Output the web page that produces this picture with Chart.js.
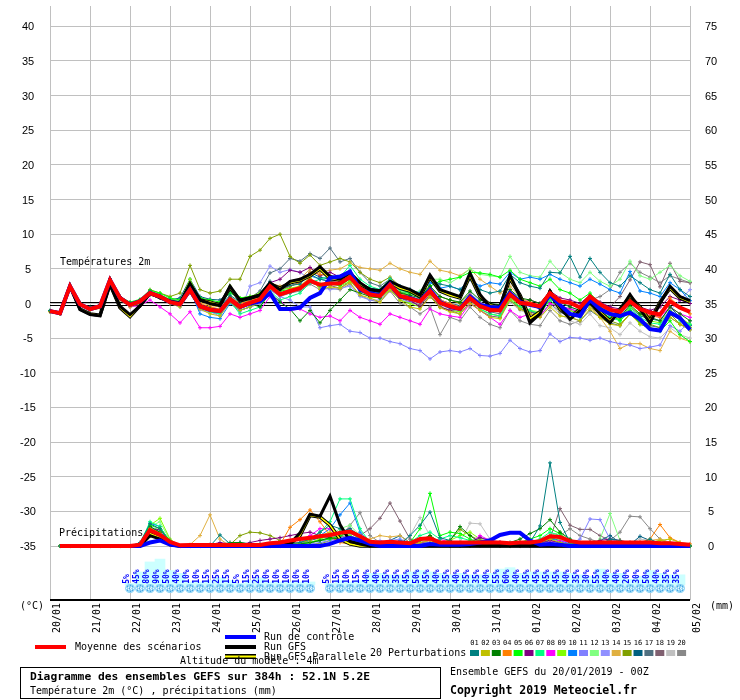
<!DOCTYPE html>
<html lang="fr">
<head>
<meta charset="utf-8">
<title>Ensemble GEFS</title>
<script src="https://cdn.jsdelivr.net/npm/chart.js@4.4.0/dist/chart.umd.min.js"></script>
<style>
  html, body { margin: 0; padding: 0; background: #fff; }
  canvas { display: block; }
</style>
</head>
<body>
<canvas id="gefsChart" width="740" height="700"></canvas>
<script>
// GEFS ensemble diagram: 2m temperature (left axis) and precipitation (right axis), 6h steps

const dayLabels = ['20/01','21/01','22/01','23/01','24/01','25/01','26/01','27/01','28/01',
    '29/01','30/01','31/01','01/02','02/02','03/02','04/02','05/02'];
const hours = ['00','06','12','18'];
const tempTicks = [40,35,30,25,20,15,10,5,0,-5,-10,-15,-20,-25,-30,-35];
const precipTicks = [75,70,65,60,55,50,45,40,35,30,25,20,15,10,5,0];

// Temperatures (°C)
const tempMean = [-1.1,-1.4,2.5,-0.1,-0.8,-0.4,3.4,0.8,-0.2,0.3,
    1.5,1.0,0.2,-0.1,2.0,-0.4,-0.9,-1.1,0.6,-0.5,
    0.1,0.6,2.5,1.3,1.8,2.2,3.3,2.7,2.9,2.9,
    3.8,2.2,1.3,1.1,2.7,1.1,0.7,0.3,1.8,0.1,
    -0.4,-0.8,0.8,-0.4,-0.9,-1.0,1.3,0.1,-0.1,-0.4,
    1.5,0.3,0.1,-0.6,1.0,-0.1,-0.9,-1.2,0.3,-0.8,
    -1.3,-1.6,0.3,-0.6,-1.2];
const tempCtrl = [-1.1,-1.4,2.5,-0.1,-0.8,-0.4,3.4,0.8,-0.2,0.3,
    1.5,1.0,0.2,-0.1,2.0,-0.4,-0.9,-1.1,0.6,-0.5,
    0.0,0.3,1.5,-0.8,-0.8,-0.6,0.8,1.5,3.7,3.9,
    4.6,2.0,1.5,1.2,2.8,1.0,0.8,0.3,2.0,0.2,
    -0.5,-0.8,1.0,-0.2,-0.5,-0.6,1.5,0.2,-0.2,-0.5,
    1.2,-0.2,-1.5,-1.8,0.5,-0.8,-1.5,-1.8,-1.3,-2.3,
    -3.7,-3.9,-1.3,-2.1,-3.8];
const tempGfs = [-1.1,-1.4,2.5,-0.9,-1.6,-1.8,2.7,-0.4,-1.6,-0.4,
    1.5,0.8,0.2,0.0,2.9,0.5,0.0,-0.3,2.5,0.5,
    0.8,1.2,3.0,2.0,3.2,3.5,4.2,5.3,3.9,3.5,
    4.4,3.0,2.0,1.8,3.2,2.5,2.0,1.2,4.1,2.0,
    1.5,1.0,4.4,1.3,-0.5,-0.5,4.1,1.0,-2.8,-1.5,
    1.8,-0.5,-2.3,-1.0,0.1,-1.5,-2.8,-1.0,1.3,-0.8,
    -2.8,0.0,2.5,1.0,0.4];
const tempPar = [-1.1,-1.4,2.5,-0.8,-1.5,-1.7,2.8,-0.6,-1.9,-0.3,
    1.5,0.9,0.3,0.0,2.7,0.5,0.2,-0.2,2.3,0.4,
    0.8,1.2,2.8,2.2,3.0,3.3,4.0,5.0,3.6,3.4,
    4.2,2.8,2.0,1.8,3.0,2.2,1.8,1.0,3.8,1.8,
    1.2,0.8,4.0,1.0,-0.2,-0.5,3.6,1.2,-2.2,-1.2,
    1.5,-0.8,-2.0,-0.8,0.3,-1.2,-2.5,-0.8,1.0,-0.5,
    -2.5,0.2,2.2,0.8,0.2];

const t01 = [-1.0,-1.4,2.5,0.0,-0.6,-0.3,3.6,1.0,0.1,0.5,
    1.8,1.2,0.5,0.3,2.6,0.4,0.0,-0.4,1.2,0.2,
    0.6,1.2,3.0,2.0,2.6,2.8,4.2,3.5,3.2,3.0,
    4.0,2.5,1.8,1.5,3.0,2.2,2.0,1.2,3.5,2.8,
    2.5,2.0,3.5,2.0,1.5,1.8,4.2,3.0,2.5,2.2,
    4.5,4.4,6.8,3.8,6.5,4.5,3.0,2.5,4.0,3.0,
    2.0,1.5,4.2,2.0,1.0];
const t02 = [-1.2,-1.5,2.4,-0.3,-1.0,-0.7,3.2,0.5,-0.5,0.0,
    1.2,0.8,0.0,-0.5,1.6,-0.8,-1.5,-1.8,0.2,-1.0,
    -0.5,0.2,2.2,1.5,2.0,2.5,3.8,2.0,2.4,2.2,
    3.0,1.2,0.8,0.2,2.0,0.5,-0.5,-0.8,1.0,-0.6,
    -1.2,-1.5,0.0,-1.0,-2.0,-2.2,0.5,-0.8,-1.5,-2.0,
    -0.5,-1.8,-2.0,-2.5,-0.8,-2.0,-3.0,-3.2,-1.5,-3.0,
    -3.5,-3.8,-2.0,-3.0,-3.8];
const t03 = [-1.1,-1.3,2.6,0.1,-0.7,-0.2,3.4,0.9,0.0,0.4,
    1.4,0.9,0.3,0.0,2.2,-0.2,-0.7,-1.0,0.8,-0.3,
    0.0,-0.5,1.5,0.2,-0.8,-2.5,-1.0,-2.8,-1.0,0.5,
    2.0,1.5,1.0,0.8,2.5,1.5,1.2,0.8,2.5,1.0,
    0.5,0.2,1.8,0.5,0.0,-0.2,2.0,0.8,0.5,0.0,
    1.8,0.2,-0.5,-1.0,0.8,-0.5,-1.5,-2.0,-0.2,-1.5,
    -2.0,-2.5,-0.5,-1.5,-2.5];
const t04 = [-1.1,-1.4,2.5,-0.1,-0.8,-0.3,3.5,0.8,-0.1,0.4,
    1.6,1.1,0.4,0.1,2.2,0.0,-0.5,-0.8,0.9,0.0,
    0.4,1.0,2.8,2.0,2.5,3.0,4.5,4.2,4.0,3.5,
    4.5,3.0,2.0,1.8,3.2,1.5,1.0,0.5,2.2,0.5,
    0.0,-0.5,1.2,0.0,-0.5,-0.8,1.8,0.5,0.2,-0.3,
    1.5,0.5,0.0,-0.8,0.8,-0.5,-1.2,-1.8,0.5,-1.0,
    -1.8,-2.0,0.8,-0.5,-1.5];
const t05 = [-1.1,-1.4,2.5,0.0,-0.6,-0.2,3.6,1.0,0.2,0.6,
    1.9,1.5,0.8,0.5,2.8,0.8,0.5,0.2,1.5,0.8,
    1.0,1.2,2.6,1.8,2.0,2.2,3.5,2.5,2.8,2.6,
    3.5,2.0,1.5,1.2,2.8,1.5,1.5,1.0,2.5,3.2,
    3.5,3.8,4.5,4.4,4.2,3.8,4.8,3.5,3.0,2.5,
    3.5,2.0,1.5,0.5,1.5,0.0,-1.5,-2.5,-1.0,-3.0,
    -3.5,-4.0,-2.5,-4.5,-5.5];
const t06 = [-1.1,-1.4,2.5,-0.1,-0.8,-0.4,3.4,0.8,-0.2,0.3,
    1.5,1.0,0.2,-0.1,2.0,-0.3,-0.8,-1.0,0.7,-0.4,
    0.5,1.2,3.0,3.5,4.8,4.5,5.2,4.0,4.5,3.8,
    4.2,2.5,1.5,1.0,2.2,0.8,0.5,-0.5,1.0,-0.5,
    -1.0,-0.8,0.5,-0.5,-1.2,-1.0,1.0,0.0,0.5,0.0,
    1.8,0.8,0.5,0.0,1.2,0.2,-0.5,-0.8,0.5,-0.5,
    -1.0,-0.5,1.0,0.5,0.0];
const t07 = [-1.1,-1.4,2.5,-0.1,-0.9,-0.5,3.3,0.7,-0.3,0.2,
    1.4,0.9,0.1,-0.3,1.8,-0.6,-1.2,-1.5,0.3,-1.5,
    -1.0,-0.5,1.8,0.5,1.0,1.5,3.0,3.5,4.0,3.8,
    5.5,3.5,2.5,2.0,3.5,2.0,1.5,0.8,2.0,0.2,
    -0.5,-1.0,0.8,-0.8,-1.5,-1.8,0.5,-0.5,-1.0,-1.5,
    0.5,-0.8,-1.5,-2.0,0.0,-1.2,-2.0,-2.5,-0.8,-2.0,
    -2.8,-3.0,-1.2,-2.5,-3.0];
const t08 = [-1.1,-1.4,2.5,-0.2,-0.9,-0.5,3.3,0.6,-0.5,-0.3,
    0.5,-0.5,-1.5,-2.8,-1.2,-3.5,-3.5,-3.3,-1.5,-2.0,
    -1.5,-1.0,1.0,0.5,-1.0,-0.8,-1.5,-2.0,-1.8,-2.5,
    -1.0,-2.0,-2.5,-3.0,-1.5,-2.0,-2.5,-3.0,-0.8,-1.5,
    -1.8,-2.0,0.0,-1.0,-2.0,-3.0,-1.0,-2.0,-1.5,-1.8,
    0.0,-0.5,-0.8,-1.2,0.5,-0.5,-1.0,-1.5,0.0,-1.0,
    -1.5,-2.0,-0.5,-1.5,-2.0];
const t09 = [-1.1,-1.4,2.5,0.0,-0.7,-0.3,3.5,0.9,0.0,0.5,
    1.8,1.3,0.6,0.3,3.5,0.5,0.2,0.0,2.5,0.8,
    1.0,1.5,3.0,2.0,2.2,2.5,3.5,2.8,3.0,2.5,
    3.2,2.0,1.0,0.8,2.0,0.5,0.0,-0.5,1.0,-0.5,
    -1.0,-1.2,0.5,-0.8,-1.5,-1.8,0.8,-0.5,-1.0,-1.2,
    0.8,-0.5,-1.0,-1.5,0.2,-1.0,-1.8,-2.2,-0.5,-1.5,
    -2.5,-2.8,-1.0,-2.0,-3.0];
const t10 = [-1.1,-1.4,2.5,-0.1,-0.8,-0.4,3.5,0.9,0.0,0.5,
    1.7,1.2,0.3,-0.2,2.0,-1.5,-2.0,-2.2,0.0,-1.0,
    -0.5,0.5,2.5,1.8,2.5,3.0,4.0,3.5,3.2,3.8,
    4.8,3.0,2.2,2.0,3.5,2.5,2.0,1.5,3.0,2.2,
    2.5,2.0,3.5,2.5,3.0,2.8,4.5,3.5,3.8,3.5,
    4.2,3.5,3.0,2.5,3.5,2.8,2.0,1.5,4.6,1.8,
    1.5,1.0,3.0,2.0,0.4];
const t11 = [-1.1,-1.4,2.5,-0.2,-0.9,-0.5,3.3,0.7,-0.3,0.2,
    1.3,0.8,0.0,-0.5,1.5,-0.8,-1.2,-1.5,0.2,-1.0,
    -0.5,0.0,2.0,1.0,0.5,-0.5,-0.5,-3.5,-3.2,-3.0,
    -4.0,-4.2,-5.0,-5.0,-5.5,-5.8,-6.5,-6.8,-8.0,-7.0,
    -6.8,-7.0,-6.5,-7.5,-7.6,-7.2,-5.3,-6.5,-7.0,-6.8,
    -4.4,-5.5,-4.9,-5.0,-5.3,-5.0,-5.5,-5.8,-6.0,-6.5,
    -6.3,-6.0,-3.2,-4.0,-2.5];
const t12 = [-1.1,-1.4,2.5,-0.1,-0.8,-0.4,3.4,0.8,-0.2,0.3,
    1.5,1.0,0.2,-0.1,2.0,-0.3,-0.8,-1.0,0.7,-0.4,
    0.2,0.8,2.6,1.5,2.0,2.4,3.5,2.8,3.0,3.0,
    4.0,2.5,1.5,1.5,3.0,1.8,1.5,1.8,3.5,3.5,
    3.0,3.8,5.0,4.2,4.0,3.8,6.8,4.5,4.0,3.8,
    6.1,4.5,3.5,3.0,4.5,3.2,2.5,3.5,6.1,4.0,
    3.5,4.5,5.5,4.0,3.2];
const t13 = [-1.1,-1.4,2.5,-0.1,-0.8,-0.5,3.4,0.8,-0.3,0.2,
    1.4,0.9,0.1,-0.2,1.6,-1.0,-1.2,-1.8,0.2,-1.2,
    2.5,3.0,5.4,4.5,4.9,4.5,3.5,2.5,2.0,2.2,
    2.5,1.0,0.5,0.5,2.0,0.5,0.2,0.5,1.8,0.5,
    0.0,-0.5,1.5,0.2,-0.5,-0.8,1.5,0.5,0.0,-0.5,
    1.2,0.2,-0.5,-1.0,0.5,-0.5,-1.0,-1.5,-0.5,-1.5,
    -2.0,-2.5,-1.0,0.5,2.0];
const t14 = [-1.1,-1.4,2.5,0.0,-0.7,-0.3,3.6,0.9,0.0,0.5,
    1.6,1.1,0.4,0.0,2.4,0.2,-0.3,-0.5,1.0,0.0,
    0.5,1.0,3.0,2.5,3.0,3.5,5.0,4.5,4.8,5.0,
    5.8,5.2,5.0,4.8,5.8,5.0,4.5,4.2,6.1,4.8,
    4.5,4.0,5.0,3.5,2.5,1.5,2.5,1.0,0.0,-0.5,
    0.5,-1.0,-1.5,-2.0,-0.5,-2.0,-4.0,-6.5,-5.8,-5.8,
    -6.5,-6.8,-4.0,-5.0,-5.5];
const t15 = [-1.1,-1.4,2.5,-0.1,-0.8,-0.4,3.4,0.8,-0.2,0.5,
    2.0,1.5,1.0,1.5,5.5,2.0,1.5,1.8,3.5,3.5,
    6.8,7.7,9.4,10.0,6.8,5.8,7.0,5.5,6.0,6.5,
    6.0,4.5,3.5,3.0,3.8,2.5,2.0,1.5,2.5,1.0,
    0.5,0.0,1.5,0.0,-0.5,-1.0,1.0,-0.5,-1.0,-1.5,
    0.5,-1.0,-1.5,-2.0,-0.5,-1.5,-2.5,-3.0,-1.5,-2.5,
    -3.0,-3.5,-1.5,-3.0,-3.5];
const t16 = [-1.1,-1.4,2.5,-0.1,-0.8,-0.4,3.5,0.8,-0.1,0.4,
    1.6,1.1,0.5,0.8,3.5,1.0,0.6,0.5,1.8,0.5,
    0.8,1.5,3.2,2.0,2.5,3.0,4.5,3.8,3.5,3.2,
    4.0,2.8,2.0,1.8,3.2,1.8,1.5,1.0,2.2,0.5,
    0.0,-0.3,1.2,0.0,-0.8,-1.0,1.5,0.2,-0.2,-0.8,
    1.0,-0.3,-0.8,-1.2,0.5,-0.8,-1.8,-2.2,-0.5,-1.8,
    -2.2,-2.5,-0.5,-2.0,-3.2];
const t17 = [-1.1,-1.4,2.5,-0.1,-0.8,-0.4,3.4,0.8,-0.2,0.3,
    1.5,1.0,0.3,0.0,2.2,-0.2,-0.6,-0.8,1.0,0.0,
    0.8,1.8,4.4,5.0,6.5,6.1,7.2,6.5,8.0,6.0,
    6.5,4.5,3.0,2.5,3.5,1.8,1.0,0.5,1.5,0.0,
    -0.5,-0.8,0.8,-0.5,-1.2,-1.5,0.5,-0.8,-1.2,-1.8,
    0.0,-1.2,-2.0,-2.5,-1.0,-2.0,-2.8,-3.2,-1.5,-2.8,
    -3.2,-3.5,-2.0,-3.0,-3.8];
const t18 = [-1.1,-1.4,2.5,-0.1,-0.8,-0.4,3.4,0.8,-0.2,0.3,
    1.5,1.0,0.2,-0.2,1.8,-0.5,-1.0,-1.2,0.5,-0.6,
    0.0,0.5,2.2,1.2,1.5,2.0,3.0,2.5,2.6,2.2,
    3.2,1.8,1.0,0.8,2.0,0.8,0.2,-0.2,1.2,-0.5,
    -1.0,-1.5,0.2,-1.0,-1.8,-2.0,0.5,-0.8,-1.2,-1.5,
    0.8,-0.5,-1.0,-1.5,0.5,-0.5,-0.5,1.0,3.4,6.0,
    5.6,2.4,5.8,3.2,3.0];
const t19 = [-1.1,-1.4,2.5,-0.1,-0.8,-0.4,3.4,0.8,-0.2,0.3,
    1.5,1.0,0.3,0.0,1.8,-0.3,-0.8,-1.0,0.8,-0.3,
    0.3,0.8,2.5,1.5,1.8,2.2,3.2,2.6,2.8,2.8,
    3.6,2.0,1.2,1.0,2.5,0.8,0.3,0.0,1.5,-0.3,
    -0.8,-1.2,0.5,-0.8,-1.5,-1.8,0.2,-1.0,-1.5,-2.0,
    -0.2,-1.5,-2.5,-3.0,-1.5,-3.2,-3.5,-4.5,-2.8,-4.0,
    -4.8,-5.0,-3.5,-4.5,-5.0];
const t20 = [-1.1,-1.4,2.5,-0.1,-0.8,-0.4,3.4,0.8,-0.2,0.3,
    1.2,0.8,0.0,-0.3,1.5,-0.8,-1.2,-1.5,0.2,-1.0,
    -0.5,0.0,2.0,1.0,1.5,1.8,2.8,2.0,2.2,2.0,
    2.8,1.2,0.5,0.2,1.8,0.0,-0.5,-1.5,-0.5,-4.5,
    -2.0,-2.5,-0.5,-2.0,-3.0,-3.5,-1.0,-2.5,-3.0,-3.2,
    -1.0,-2.5,-3.0,-2.5,0.5,1.0,2.0,4.5,5.8,4.5,
    3.8,3.0,4.0,3.5,3.0];

// Precipitation (mm), no value at step 0
const precipMean = [null,0,0,0,0,0,0,0,0,0.2,
    2.3,1.6,0.6,0.1,0.15,0.15,0.15,0.15,0.15,0.15,
    0.15,0.15,0.4,0.5,0.8,1.0,1.2,1.4,1.6,1.9,
    2.1,1.4,0.6,0.5,0.6,0.5,0.4,1.0,1.1,0.5,
    0.5,0.5,0.5,0.5,0.5,0.5,0.4,0.5,0.5,0.7,
    1.4,1.3,0.7,0.5,0.5,0.5,0.5,0.5,0.5,0.5,
    0.5,0.4,0.4,0.3,0.2];
const precipCtrl = [null,0,0,0,0,0,0,0,0,0,
    0.5,0.8,0.2,0,0,0,0,0,0,0,
    0,0,0,0,0,0,0,0,0.3,0.8,
    1.2,0.8,0.3,0,0,0,0,0,0.3,0.2,
    0.2,0.2,0.3,0.5,0.8,1.6,1.9,1.9,0.8,0.2,
    0.3,0.2,0,0,0,0,0,0,0,0,
    0,0,0,0,0];
const precipGfs = [null,0,0,0,0,0,0,0,0,0,
    1.5,1.0,0.2,0,0,0,0,0,0,0,
    0,0,0,0,0.3,1.9,4.6,4.3,7.2,3.1,
    0.7,0.3,0,0,0,0,0,0,0,0,
    0,0,0,0,0,0,0,0,0,0,
    0,0,0,0,0.3,0.5,0.2,0,0,0,
    0,0,0,0,0];
const precipPar = [null,0,0,0,0,0,0,0,0,0,
    1.8,1.2,0.2,0,0,0,0,0,0,0,
    0,0,0,0,0.3,1.5,4.4,4.2,3.0,1.0,
    0.3,0,0,0,0,0,0,0,0,0,
    0,0,0,0,0,0,0,0,0,0,
    0,0,0,0,0,0,0,0,0,0,
    0,0,0,0,0];

const p01 = [null,0,0,0,0,0,0,0,0,0.5,
    3.2,2.5,0.5,0,0,0,0,1.6,0.3,0,
    0,0,0,0.2,0.3,0.5,1.0,2.0,3.0,2.5,
    1.0,0.5,0.2,0,0.3,0.2,1.5,3.0,4.9,1.2,
    0.8,0.3,0.2,0.3,0.5,0.2,0,0.2,0.5,2.9,
    12.0,3.4,0.5,0.2,0.3,0.2,1.0,0.8,0.2,0.3,
    1.0,0.3,0.2,0.1,0];
const p02 = [null,0,0,0,0,0,0,0,0,0.3,
    2.5,1.8,0.3,0,0,0,0,0,0,0,
    0,0,0,0,0.2,0.5,0.8,1.5,2.0,1.0,
    0.5,0.2,0,0,0.2,0,0,0.5,0.8,0.2,
    0,0,0,0.3,0.5,0.2,0,0,0.2,0.5,
    1.0,0.5,0.2,0,0,0.2,0.5,0.3,0,0.2,
    0.5,0.8,1.0,0.5,0];
const p03 = [null,0,0,0,0,0,0,0,0,0.2,
    2.8,2.0,0.3,0,0,0,0,0.2,0.5,0.5,
    0.3,0.2,0,0,0.2,0.3,0.5,0.8,1.2,1.0,
    0.5,0.3,0.2,0,0,0.2,0.3,0.8,1.5,0.5,
    0.8,2.8,1.5,0.5,0.3,0.2,0.5,1.0,1.8,2.5,
    3.8,2.0,1.0,0.3,0.2,0,0,0,0,0,
    0.2,0.3,0.2,0,0];
const p04 = [null,0,0,0,0,0,0,0,0,0.2,
    2.5,2.0,0.5,0,0,0,0,0,0,0,
    0,0,0,0.2,2.7,3.8,5.2,3.5,1.5,0.5,
    0.3,0.2,0,0,0,0,0,0,0.3,0.2,
    0,0,0,0,0.2,0,0,0,0,0,
    0.3,0.2,0,0,0,0,0.5,0.8,0.3,0.5,
    1.0,3.1,1.2,0.5,0.3];
const p05 = [null,0,0,0,0,0,0,0,0,0.3,
    3.0,2.5,0.8,0,0,0,0,0,0,0,
    0,0,0,0,0.2,0.3,0.5,0.8,1.0,1.5,
    2.0,1.0,0.3,0,0.2,0,0.5,2.5,7.6,1.5,
    2.0,1.8,1.0,0.5,0.3,0.2,0,0.5,1.0,1.5,
    2.5,1.8,0.5,0.2,0,0,0.2,0.3,0.2,0,
    0,0.2,0.3,0,0];
const p06 = [null,0,0,0,0,0,0,0,0,0.2,
    2.0,2.5,0.5,0,0,0,0.2,0.5,0.3,0.2,
    0.5,0.8,1.0,1.2,1.5,1.8,2.0,1.5,1.2,0.8,
    0.5,0.3,0.2,0,0,0,0.3,0.5,0.3,0.2,
    0,0.2,0.5,1.2,0.8,0.5,0.2,0,0.3,0.5,
    0.8,0.5,0.2,0.3,0.5,0.8,1.0,0.8,0.5,0.3,
    0.2,0.2,0,0,0];
const p07 = [null,0,0,0,0,0,0,0,0,0.3,
    3.5,2.8,0.5,0,0,0,0,0,0,0,
    0,0,0,0,0.2,0.5,1.0,2.0,3.5,6.8,
    6.8,2.5,0.5,0.2,0.3,0.2,0.5,1.5,2.0,1.0,
    1.5,1.2,0.8,0.5,0.3,0.2,0,0.2,0.5,1.0,
    2.0,1.5,0.5,0.2,0,0,0.2,0.3,0.2,0,
    0,0.2,0.3,0.2,0];
const p08 = [null,0,0,0,0,0,0,0,0,0.2,
    2.0,2.5,0.8,0,0,0,0,0,0,0,
    0,0,0,0,0.3,0.5,1.5,2.5,2.5,1.0,
    0.5,0.3,0.2,0,0,0,0.2,0.5,0.8,1.0,
    0.5,0.3,0.5,1.5,0.8,0.5,0.2,0,0.2,0.3,
    0.5,0.8,0.5,0.2,0,0,0.2,0.3,0.2,0,
    0,0.2,0.3,0,0];
const p09 = [null,0,0,0,0,0,0,0,0,0.3,
    3.0,4.0,1.0,0,0,0,0,0,0,0,
    0,0,0,0,0.2,0.3,0.5,1.0,1.5,2.0,
    1.5,0.8,0.3,0,0.2,0,0.3,0.8,1.5,0.5,
    0.8,1.5,2.0,1.0,0.5,0.2,0,0.2,0.5,0.8,
    1.5,1.0,0.5,0.2,0,0,0,0.2,0,0,
    0,0.2,0.5,0.3,0];
const p10 = [null,0,0,0,0,0,0,0,0,0.3,
    3.3,2.8,0.5,0,0,0,0,0,0,0,
    0,0,0,0,0.2,0.3,0.8,1.5,2.5,4.5,
    6.2,2.0,0.5,0.2,0.3,0.8,0.5,0.8,1.2,0.5,
    0.3,0.2,0.2,0.3,0.5,0.2,0,0,0.2,0.5,
    1.0,0.8,0.3,0.2,0,0,0,0.2,0,0,
    0,0,0.2,0,0];
const p11 = [null,0,0,0,0,0,0,0,0,0.2,
    2.5,2.0,0.5,0,0,0,0,0,0,0,
    0,0,0,0,0,0.2,0.3,0.5,0.8,1.0,
    0.8,0.5,0.3,0.8,0.5,0.3,0.2,0.5,0.3,0.2,
    0,0,0.2,0.5,0.3,0.2,0,0,0,0.2,
    0.3,0.5,0.3,1.0,3.9,3.8,1.0,0.5,0.3,0.2,
    0.2,0,0,0,0];
const p12 = [null,0,0,0,0,0,0,0,0,0.2,
    2.8,3.5,0.8,0,0,0,0,0,0,0,
    0,0,0,0,0.2,0.3,0.5,1.0,1.5,2.5,
    3.0,1.5,0.5,0,0.2,0,0.3,0.5,1.0,0.5,
    0.3,0.5,0.8,0.5,0.3,0.2,0,0,0.2,0.5,
    1.5,2.0,0.8,0.3,0,1.0,4.7,0.8,0.3,0.2,
    0,0,0,0,0];
const p13 = [null,0,0,0,0,0,0,0,0,0.3,
    2.8,2.2,0.5,0,0,0,0,0,0,0,
    0,0,0,0,0.2,0.3,0.5,0.8,1.0,1.2,
    1.5,1.0,0.5,0.3,0.8,1.0,0.5,0.3,0.5,0.3,
    0.2,0.2,0.5,1.2,1.0,0.5,0.2,0,0,0.2,
    0.5,0.8,0.5,0.2,0,0,0,0.2,0,0,
    0,0,0.2,0,0];
const p14 = [null,0,0,0,0,0,0,0,0,0.2,
    2.0,1.5,0.3,0,0.2,1.5,4.5,1.0,0,0,
    0,0,0,0,0.3,0.5,1.0,1.5,1.2,0.8,
    0.5,0.5,1.0,1.5,1.3,1.5,0.5,0.3,0.2,0,
    0,0,0,0.3,0.2,0,0,0,0,0.2,
    0.5,0.3,0,0,0,0,0,0.2,0.3,0.5,
    0.8,1.0,0.5,0.2,0];
const p15 = [null,0,0,0,0,0,0,0,0,0.2,
    2.2,2.8,0.5,0,0,0,0,0,0.2,1.5,
    2.0,1.9,1.5,0.8,0.5,0.5,0.5,0.3,0.8,1.5,
    1.2,0.8,0.5,0.3,0.5,0.3,0.2,0.5,0.8,0.5,
    0.8,2.4,1.5,0.8,0.5,0.2,0,0.2,0.5,0.8,
    1.2,0.8,0.5,0.2,0,0,0,0.2,0.3,0.2,
    0.5,0.8,0.5,0.2,0];
const p16 = [null,0,0,0,0,0,0,0,0,0.2,
    2.5,2.2,0.5,0,0,0,0,0,0.3,0.5,
    0.3,0.2,0,0,0.2,0.5,0.8,1.2,1.5,2.0,
    2.5,1.5,0.5,0.3,0.8,1.5,0.5,0.3,0.5,0.3,
    0.2,0.5,0.5,0.3,0.2,0,0,0.2,0.3,0.8,
    1.5,1.2,0.5,0.3,0.2,0.8,1.5,0.5,0.2,1.4,
    0.8,0.5,0.2,0,0];
const p17 = [null,0,0,0,0,0,0,0,0,0.3,
    2.5,2.0,0.5,0,0,0,0,0,0,0,
    0,0,0,0,0.2,0.3,0.5,0.8,1.2,1.5,
    1.8,1.2,0.5,0.2,0.3,0.5,0.3,0.2,0.3,0.2,
    0,0.2,0.3,0.5,0.3,0.2,0,0,0.2,0.3,
    0.8,0.5,0.3,0.2,0.5,0.3,0.2,0.5,0.3,0.2,
    0.5,0.3,0.2,0,0];
const p18 = [null,0,0,0,0,0,0,0,0,0.2,
    2.5,2.2,0.5,0,0,0,0,0,0,0,
    0,0,0,0,0.2,0.3,0.5,0.8,1.0,1.5,
    0.8,1.5,2.5,4.0,6.2,3.6,1.0,0.5,0.3,0.2,
    0,0,0.2,0.3,0.2,0,0,0,0.2,0.5,
    1.0,5.4,3.0,2.4,2.4,1.5,0.8,0.5,0.3,0.2,
    0.2,0.2,0,0,0];
const p19 = [null,0,0,0,0,0,0,0,0,0.2,
    2.0,1.8,0.3,0,0,0,0,0,0,0,
    0,0,0,0,0.2,0.5,0.8,1.2,1.5,1.0,
    0.5,0.3,0.2,0,0.3,0.5,1.5,4.1,1.5,0.5,
    0.3,0.5,3.3,3.2,1.0,0.5,0.3,0.2,0.3,0.5,
    0.8,0.5,0.3,0.2,0,0,0.2,0.3,0.5,1.0,
    0.8,0.5,0.3,0,0];
const p20 = [null,0,0,0,0,0,0,0,0,0.3,
    2.5,2.0,0.5,0,0,0,0,0,0,0,
    0,0,0,0,0.2,0.3,0.5,0.8,1.0,1.2,
    3.0,4.8,1.5,0.5,0.3,0.2,0.2,0.3,0.5,0.2,
    0,0.2,0.3,0.5,0.3,0.2,0,0,0.2,0.5,
    0.8,1.5,2.5,1.5,1.0,0.5,0.8,2.0,4.3,4.2,
    2.5,1.0,0.5,0.2,0];

const pertTemp = [t01,t02,t03,t04,t05,t06,t07,t08,t09,t10,t11,t12,t13,t14,t15,t16,t17,t18,t19,t20];
const pertPrecip = [p01,p02,p03,p04,p05,p06,p07,p08,p09,p10,p11,p12,p13,p14,p15,p16,p17,p18,p19,p20];
const pertColors = ['#008080','#c0c000','#008000','#ff8000','#00ff00','#800080','#00ff80','#ff00ff',
    '#80ff00','#0080ff','#8080ff','#80ff80','#9090ff','#e0b040','#80a000','#006080',
    '#507080','#806070','#c0c0c0','#888888'];

// snow probability (%) per step
const snowPct = [null,null,null,null,null,null,null,null,
    5,45,80,90,50,40,10,10,15,25,15,5,15,25,10,10,10,10,10,
    null,
    5,15,10,15,40,40,35,35,45,50,45,40,35,40,35,35,40,55,60,40,
    45,45,45,45,40,35,30,55,40,40,20,30,50,40,35,35,
    null];

// value range: 40°C sits at 20.5px from the top, 7px per degree
const Y_MIN = -42.79;
const Y_MAX = 42.93;
const PRECIP_OFFSET = 35;     // 0 mm drawn on the -35 °C line
const PCT_BASE = -40.6;       // base level of the probability bars
const PCT_UNIT = 0.0413;      // bar height per percent
const SNOW_LEVEL = -41.1;     // row of snow icons

const stepLabels = [];
dayLabels.forEach((d, i) => {
    hours.forEach(h => {
        if (i < dayLabels.length - 1 || h === '00') stepLabels.push(d + ' ' + h + 'h');
    });
});

function makeSnowIcon() {
    const c = document.createElement('canvas');
    c.width = 10; c.height = 9;
    const g = c.getContext('2d');
    g.fillStyle = '#8ed4f5';
    g.beginPath();
    g.ellipse(5, 4.5, 5, 4.5, 0, 0, Math.PI * 2);
    g.fill();
    g.fillStyle = '#3d9be2';
    [[2,2],[7,2],[4,4],[2,6],[7,6],[5,1],[5,7]].forEach(p => g.fillRect(p[0], p[1], 1, 1));
    g.fillStyle = '#ffffff';
    [[3,3],[6,3],[3,5],[6,5],[5,4],[1,4],[8,4]].forEach(p => g.fillRect(p[0], p[1], 1, 1));
    return c;
}

function lineSet(data, color, width, axis, markers) {
    return {
        type: 'line',
        data: data,
        yAxisID: axis,
        borderColor: color,
        backgroundColor: color,
        borderWidth: width,
        pointRadius: markers ? 2 : 0,
        pointStyle: 'cross',
        pointBorderWidth: 1,
        pointBorderColor: color,
        tension: 0,
        fill: false
    };
}

// first dataset ends up on top
const datasets = [
    lineSet(tempMean, '#ff0000', 4, 'y', false),
    lineSet(precipMean, '#ff0000', 4, 'y2', false),
    lineSet(tempCtrl, '#0000ff', 4, 'y', false),
    lineSet(precipCtrl, '#0000ff', 4, 'y2', false),
    lineSet(tempGfs, '#000000', 3, 'y', false),
    lineSet(precipGfs, '#000000', 3, 'y2', false),
    lineSet(tempPar, '#ffff00', 1.5, 'y', false),
    lineSet(tempPar, '#000000', 3.5, 'y', false),
    lineSet(precipPar, '#ffff00', 1.5, 'y2', false),
    lineSet(precipPar, '#000000', 3.5, 'y2', false)
];
pertTemp.forEach((d, i) => datasets.push(lineSet(d, pertColors[i], 1, 'y', true)));
pertPrecip.forEach((d, i) => datasets.push(lineSet(d, pertColors[i], 1, 'y2', true)));

datasets.push({
    type: 'line',
    data: snowPct.map(p => p === null ? null : SNOW_LEVEL),
    yAxisID: 'y',
    showLine: false,
    pointStyle: makeSnowIcon(),
    pointRadius: 5
});
datasets.push({
    type: 'bar',
    data: snowPct.map(p => p === null ? null : [PCT_BASE, PCT_BASE + p * PCT_UNIT]),
    yAxisID: 'y',
    backgroundColor: '#ccffff',
    borderWidth: 0,
    barPercentage: 1,
    categoryPercentage: 1
});

const MONO = '"DejaVu Sans Mono", monospace';

const overlay = {
    id: 'overlay',
    beforeDatasetsDraw(chart) {
        const { ctx, chartArea: area, scales } = chart;
        // double 0°C line
        const y0 = scales.y.getPixelForValue(0);
        ctx.save();
        ctx.strokeStyle = '#000';
        ctx.lineWidth = 1;
        [-1.5, 1.5].forEach(d => {
            const yy = Math.round(y0 + d) + 0.5;
            ctx.beginPath();
            ctx.moveTo(area.left, yy);
            ctx.lineTo(area.right, yy);
            ctx.stroke();
        });
        ctx.restore();
    },
    afterDraw(chart) {
        const { ctx, chartArea: area, scales } = chart;
        const x = scales.x, y = scales.y, y2 = scales.y2;
        ctx.save();

        // bottom axis
        ctx.strokeStyle = '#000';
        ctx.lineWidth = 2;
        ctx.beginPath();
        ctx.moveTo(area.left, area.bottom);
        ctx.lineTo(area.right, area.bottom);
        ctx.stroke();

        // axis values
        ctx.fillStyle = '#000';
        ctx.font = '11px "Liberation Sans", Arial, sans-serif';
        ctx.textAlign = 'center';
        ctx.textBaseline = 'middle';
        tempTicks.forEach(v => ctx.fillText(String(v), 28, y.getPixelForValue(v) + 1));
        precipTicks.forEach(v => ctx.fillText(String(v), 711, y2.getPixelForValue(v) + 1));

        // in-chart titles
        ctx.font = '10px ' + MONO;
        ctx.textAlign = 'left';
        ctx.fillText('Températures 2m', 60, 262);
        ctx.fillText('Précipitations', 59, 533);

        // snow probabilities
        ctx.font = 'bold 8px ' + MONO;
        ctx.fillStyle = '#0000ff';
        snowPct.forEach((p, i) => {
            if (p === null) return;
            ctx.save();
            ctx.translate(x.getPixelForValue(i) - 3, y.getPixelForValue(PCT_BASE) - 1);
            ctx.rotate(-Math.PI / 2);
            ctx.textAlign = 'left';
            ctx.textBaseline = 'middle';
            ctx.fillText(p + '%', 0, 0);
            ctx.restore();
        });

        // day labels
        ctx.fillStyle = '#000';
        ctx.font = '10px ' + MONO;
        dayLabels.forEach((d, i) => {
            ctx.save();
            ctx.translate(x.getPixelForValue(i * 4) + 7, area.bottom + 3);
            ctx.rotate(-Math.PI / 2);
            ctx.textAlign = 'right';
            ctx.textBaseline = 'middle';
            ctx.fillText(d, 0, 0);
            ctx.restore();
        });
        ctx.textAlign = 'left';
        ctx.textBaseline = 'middle';
        ctx.fillText('(°C)', 20, 606);
        ctx.fillText('(mm)', 710, 606);

        // legend lines
        ctx.fillStyle = '#ff0000';
        ctx.fillRect(35, 645, 31, 4);
        ctx.fillStyle = '#0000ff';
        ctx.fillRect(225, 635, 31, 4);
        ctx.fillStyle = '#000000';
        ctx.fillRect(225, 645, 31, 4);
        ctx.fillRect(225, 654, 31, 5);
        ctx.fillStyle = '#ffff00';
        ctx.fillRect(225, 655.5, 31, 2);

        ctx.fillStyle = '#000';
        ctx.font = '10px ' + MONO;
        ctx.fillText('Moyenne des scénarios', 75, 647);
        ctx.fillText('Run de contrôle', 264, 637);
        ctx.fillText('Run GFS', 264, 647);
        ctx.fillText('Run GFS Parallele', 264, 657);
        ctx.fillText('Altitude du modèle : 4m', 180, 661);
        ctx.fillText('20 Perturbations', 370, 653);

        // perturbation swatches
        pertColors.forEach((c, i) => {
            const sx = 470 + i * 10.9;
            ctx.fillStyle = c;
            ctx.fillRect(sx, 650, 9, 6);
            ctx.fillStyle = '#000';
            ctx.font = '7px ' + MONO;
            ctx.textAlign = 'center';
            ctx.fillText(String(i + 1).padStart(2, '0'), sx + 4.5, 643);
        });

        // info box
        ctx.textAlign = 'left';
        ctx.strokeStyle = '#000';
        ctx.lineWidth = 1;
        ctx.strokeRect(20.5, 667.5, 420, 31);
        ctx.font = 'bold 11.3px ' + MONO;
        ctx.fillText('Diagramme des ensembles GEFS sur 384h : 52.1N 5.2E', 30, 677);
        ctx.font = '10px ' + MONO;
        ctx.fillText('Température 2m (°C) , précipitations (mm)', 30, 691);
        ctx.fillText('Ensemble GEFS du 20/01/2019 - 00Z', 450, 672);
        ctx.font = 'bold 11.5px ' + MONO;
        ctx.fillText('Copyright 2019 Meteociel.fr', 450, 691);

        ctx.restore();
    }
};

new Chart(document.getElementById('gefsChart').getContext('2d'), {
    type: 'line',
    data: { labels: stepLabels, datasets: datasets },
    options: {
        responsive: false,
        animation: false,
        devicePixelRatio: 1,
        layout: { padding: { left: 50, right: 50, top: 0, bottom: 100 } },
        plugins: { legend: { display: false }, tooltip: { enabled: false } },
        scales: {
            x: {
                type: 'category',
                offset: false,
                border: { display: false },
                ticks: { display: false, autoSkip: false },
                grid: {
                    offset: false,
                    drawTicks: false,
                    color: c => c.index % 4 === 0 ? '#c0c0c0' : 'rgba(0,0,0,0)'
                }
            },
            y: {
                type: 'linear',
                position: 'left',
                min: Y_MIN,
                max: Y_MAX,
                border: { display: false },
                ticks: { display: false, stepSize: 5 },
                grid: {
                    drawTicks: false,
                    color: c => (c.tick && c.tick.value >= -35 && c.tick.value <= 40 && c.tick.value % 5 === 0)
                        ? '#c0c0c0' : 'rgba(0,0,0,0)'
                }
            },
            y2: {
                type: 'linear',
                position: 'right',
                display: false,
                min: Y_MIN + PRECIP_OFFSET,
                max: Y_MAX + PRECIP_OFFSET
            }
        }
    },
    plugins: [overlay]
});
</script>
</body>
</html>
